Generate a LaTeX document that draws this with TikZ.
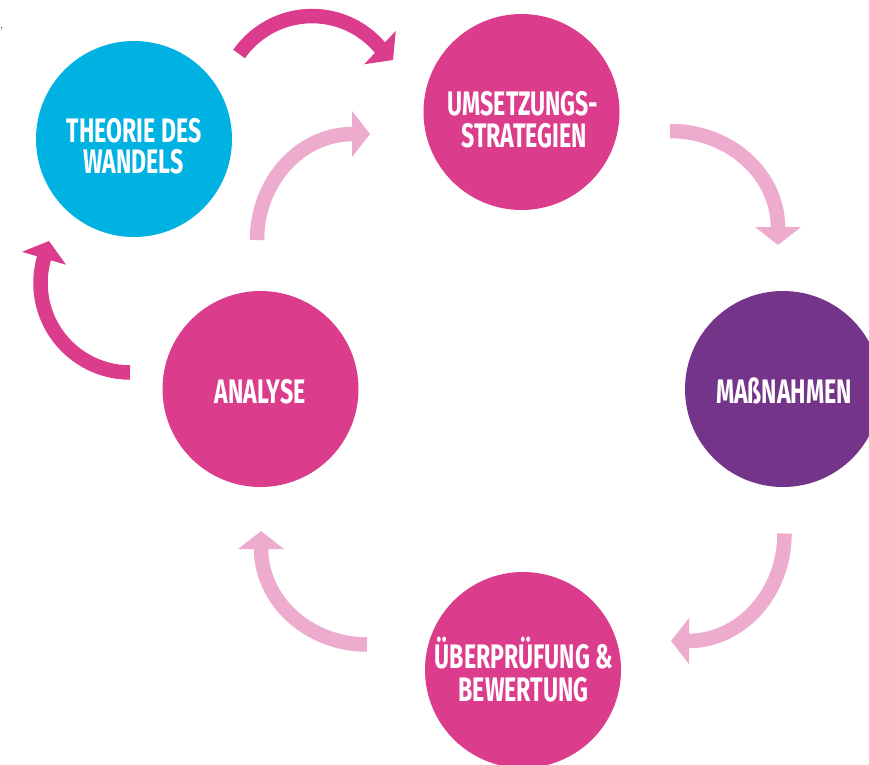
\documentclass[tikz,border=0pt]{standalone}
\usepackage{fontspec}
\usetikzlibrary{arrows.meta}
\newfontfamily\lbl[FakeStretch=0.68]{Fira Sans}
\definecolor{cyanc}{RGB}{0,178,226}
\definecolor{magc}{RGB}{219,61,140}
\definecolor{purc}{RGB}{116,52,138}
\definecolor{lightc}{RGB}{237,171,206}
\tikzset{
  circ/.style={circle, minimum size=196pt, inner sep=0pt},
  lbltext/.style={anchor=base, inner sep=0pt, text=white,
    font=\lbl\bfseries\fontsize{34}{32}\selectfont},
  arrowbase/.style={line width=14.5pt, -{Triangle[width=45pt,length=18pt]}},
  darkarrow/.style={arrowbase, draw=magc},
  lightarrow/.style={arrowbase, draw=lightc},
}
\begin{document}
\begin{tikzpicture}[x=1pt,y=-1pt]
\useasboundingbox (0,0) rectangle (869,764);
\clip (0,0) rectangle (869,764);
\fill[white] (0,0) rectangle (869,764);

% circles
\node[circ, fill=cyanc] (theorie) at (134,139) {};
\node[circ, fill=magc]  (umsetz)  at (521.5,112) {};
\node[circ, fill=purc]  (mass)    at (783,389) {};
\node[circ, fill=magc]  (analyse) at (260.5,389) {};
\node[circ, fill=magc]  (pruef)   at (523,670) {};

% labels (one node per line, placed on its baseline)
\node[lbltext] (theorie1) at (134,142) {THEORIE DES};
\node[lbltext] (theorie2) at (133.5,173) {WANDELS};
\node[lbltext] (umsetz1)  at (523,115) {UMSETZUNGS-};
\node[lbltext] (umsetz2)  at (524,147) {STRATEGIEN};
\node[lbltext] (analyse1) at (260,403) {ANALYSE};
\node[lbltext] (mass1)    at (784,403) {MAßNAHMEN};
\node[lbltext] (pruef1)   at (524,668) {ÜBERPRÜFUNG \&};
\node[lbltext] (pruef2)   at (523.5,701) {BEWERTUNG};

% small mark top left
\node[inner sep=0pt, font=\fontsize{11}{11}\selectfont] (mark) at (1.5,29) {,};

% arrow coordinates
\coordinate (a1s) at (239.1,54.0);
\coordinate (a1t) at (393,60);
\coordinate (a4s) at (130,372.5);
\coordinate (a4t) at (49,241);
\coordinate (a2s) at (257,240);
\coordinate (a2b) at (353,134);
\coordinate (a2t) at (370,134);
\coordinate (a3s) at (670,131);
\coordinate (a3b) at (778,228);
\coordinate (a3t) at (778,245);
\coordinate (a5s) at (784.5,533.5);
\coordinate (a5b) at (688,641);
\coordinate (a5t) at (671,641);
\coordinate (a6s) at (367,644.5);
\coordinate (a6b) at (261,548);
\coordinate (a6t) at (261,531);

% dark arrows
\draw[darkarrow] (a1s) arc[start angle=-145, end angle=-40, radius=89] -- (a1t);
\draw[darkarrow] (a4s) arc[start angle=90, end angle=196, radius=89.5] -- (a4t);

% light arrows
\draw[lightarrow] (a2s) .. controls (257,181.5) and (300,134) .. (a2b) -- (a2t);
\draw[lightarrow] (a3s) .. controls (730,131) and (778,174.5) .. (a3b) -- (a3t);
\draw[lightarrow] (a5s) .. controls (784.5,593) and (741,641) .. (a5b) -- (a5t);
\draw[lightarrow] (a6s) .. controls (308.5,644.5) and (261,601) .. (a6b) -- (a6t);
\end{tikzpicture}
\end{document}
